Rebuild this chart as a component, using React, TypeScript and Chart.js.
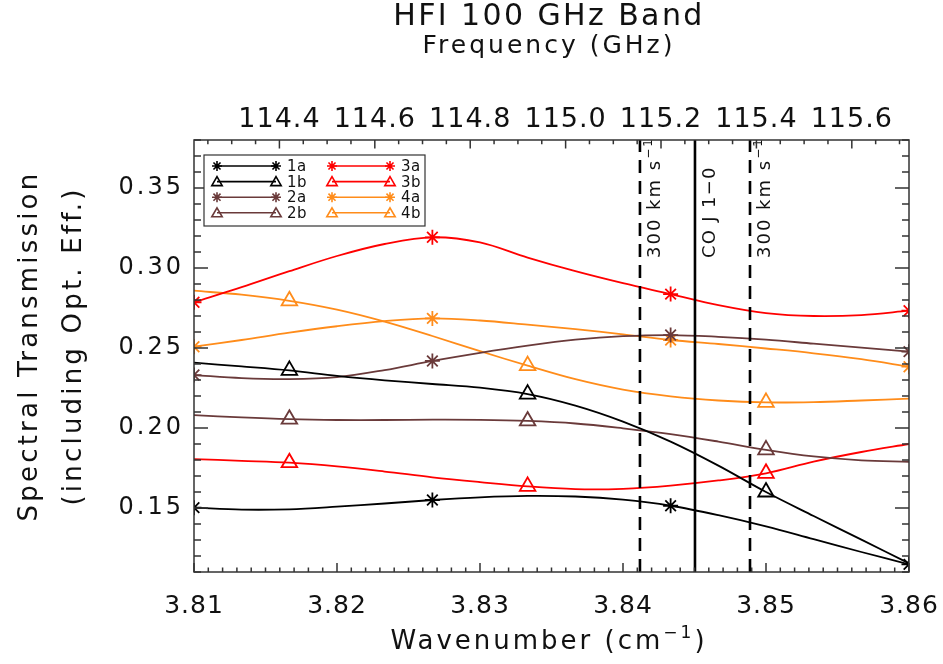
import React, { useEffect, useRef } from "react";
import { Chart, registerables } from "chart.js";

Chart.register(...registerables);

// ---------------- data ----------------
const C_GHZ = 29.9792458; // GHz per cm^-1
const wavenumber = [3.81, 3.81333, 3.81667, 3.82, 3.82333, 3.82667, 3.83, 3.83333, 3.83667, 3.84, 3.84333, 3.84667, 3.85, 3.85333, 3.85667, 3.86];

const s1a = [0.1502, 0.1490, 0.1492, 0.1508, 0.1528, 0.1550, 0.1567, 0.1576, 0.1572, 0.1552, 0.1514, 0.1455, 0.1385, 0.1305, 0.1225, 0.1148];
const s1b = [0.2408, 0.2385, 0.2360, 0.2326, 0.2298, 0.2275, 0.2252, 0.2212, 0.2140, 0.2040, 0.1915, 0.1765, 0.1600, 0.1450, 0.1302, 0.1154];
const s2a = [0.2331, 0.2312, 0.2306, 0.2318, 0.2362, 0.2419, 0.2470, 0.2515, 0.2552, 0.2574, 0.2581, 0.2570, 0.2552, 0.2527, 0.2502, 0.2477];
const s2b = [0.2081, 0.2066, 0.2055, 0.2050, 0.2050, 0.2052, 0.2051, 0.2044, 0.2028, 0.1998, 0.1962, 0.1915, 0.1863, 0.1822, 0.1798, 0.1789];
const s3a = [0.2786, 0.2880, 0.2980, 0.3075, 0.3150, 0.3192, 0.3160, 0.3065, 0.2980, 0.2905, 0.2837, 0.2768, 0.2718, 0.2700, 0.2706, 0.2733];
const s3b = [0.1806, 0.1795, 0.1783, 0.1760, 0.1728, 0.1692, 0.1662, 0.1635, 0.1618, 0.1620, 0.1640, 0.1672, 0.1717, 0.1790, 0.1850, 0.1900];
const s4a = [0.2508, 0.2550, 0.2596, 0.2636, 0.2668, 0.2685, 0.2672, 0.2646, 0.2618, 0.2585, 0.2550, 0.2525, 0.2497, 0.2467, 0.2430, 0.2383];
const s4b = [0.2858, 0.2833, 0.2795, 0.2740, 0.2665, 0.2575, 0.2480, 0.2390, 0.2305, 0.2240, 0.2198, 0.2172, 0.2160, 0.2162, 0.2172, 0.2183];

const markerIdxA = [0, 5, 10, 15];
const markerIdxB = [2, 7, 12];

const seriesNames = ["1a", "1b", "2a", "2b", "3a", "3b", "4a", "4b"];
const seriesValues = [s1a, s1b, s2a, s2b, s3a, s3b, s4a, s4b];

const bottomTicks = [3.81, 3.82, 3.83, 3.84, 3.85, 3.86];
const bottomTickLabels = ["3.81", "3.82", "3.83", "3.84", "3.85", "3.86"];
const topTicks = [114.4, 114.6, 114.8, 115.0, 115.2, 115.4, 115.6];
const topTickLabels = ["114.4", "114.6", "114.8", "115.0", "115.2", "115.4", "115.6"];
const yTicks = [0.15, 0.2, 0.25, 0.3, 0.35];
const yTickLabels = ["0.15", "0.20", "0.25", "0.30", "0.35"];

const coRestGHz = 115.2712;
const velocityKms = 300;
const lightKms = 299792.458;
const lineFreqs = [coRestGHz * (1 - velocityKms / lightKms), coRestGHz, coRestGHz * (1 + velocityKms / lightKms)];
const lineLabels = ["300 km s", "CO J 1\u22120", "300 km s"];
const lineDashed = [true, false, true];

// ---------------- styles ----------------
const BLACK = "#000000";
const RED = "#ff0000";
const BROWN = "#6a3a3a";
const ORANGE = "#ff8c1a";
const seriesColors = [BLACK, BLACK, BROWN, BROWN, RED, RED, ORANGE, ORANGE];
const FONT = '"DejaVu Sans", sans-serif';

type Part = { t: string; size: number; dy?: number };

function drawRich(ctx: CanvasRenderingContext2D, parts: Part[], x: number, y: number, align: "left" | "center", spacing: number) {
  ctx.save();
  ctx.textAlign = "left";
  ctx.textBaseline = "alphabetic";
  (ctx as any).letterSpacing = spacing + "px";
  let total = 0;
  const widths = parts.map((p) => {
    ctx.font = `${p.size}px ${FONT}`;
    const w = ctx.measureText(p.t).width;
    total += w;
    return w;
  });
  let cx = align === "center" ? x - total / 2 : x;
  parts.forEach((p, i) => {
    ctx.font = `${p.size}px ${FONT}`;
    ctx.fillText(p.t, cx, y - (p.dy || 0));
    cx += widths[i];
  });
  ctx.restore();
}

function drawMarker(ctx: CanvasRenderingContext2D, style: string, x: number, y: number, r: number) {
  ctx.beginPath();
  if (style === "star") {
    for (let k = 0; k < 4; k++) {
      const a = (k * Math.PI) / 4;
      ctx.moveTo(x - Math.cos(a) * r, y - Math.sin(a) * r);
      ctx.lineTo(x + Math.cos(a) * r, y + Math.sin(a) * r);
    }
  } else {
    for (let k = 0; k < 3; k++) {
      const a = (k * 2 * Math.PI) / 3;
      const px = x + Math.sin(a) * r;
      const py = y - Math.cos(a) * r;
      if (k === 0) ctx.moveTo(px, py);
      else ctx.lineTo(px, py);
    }
    ctx.closePath();
  }
  ctx.stroke();
}

const decorPlugin = {
  id: "decor",
  afterDatasetsDraw(chart: any) {
    const ctx: CanvasRenderingContext2D = chart.ctx;
    const area = chart.chartArea;
    const xTop = chart.scales.xTop;
    ctx.save();
    ctx.beginPath();
    ctx.rect(area.left, area.top, area.right - area.left, area.bottom - area.top);
    ctx.clip();
    ctx.strokeStyle = "#000";
    ctx.lineWidth = 2.6;
    lineFreqs.forEach((f, i) => {
      const x = xTop.getPixelForValue(f);
      ctx.setLineDash(lineDashed[i] ? [13, 8] : []);
      ctx.beginPath();
      ctx.moveTo(x, area.bottom);
      ctx.lineTo(x, area.top);
      ctx.stroke();
    });
    ctx.setLineDash([]);
    ctx.restore();

    // rotated labels for lines
    ctx.save();
    ctx.fillStyle = "#111";
    lineFreqs.forEach((f, i) => {
      const x = xTop.getPixelForValue(f);
      ctx.save();
      ctx.translate(x + 20, 258);
      ctx.rotate(-Math.PI / 2);
      const parts: Part[] = [{ t: lineLabels[i], size: 18 }];
      if (lineDashed[i]) parts.push({ t: "\u22121", size: 12, dy: 8 });
      drawRich(ctx, parts, 0, 0, "left", lineDashed[i] ? 2 : 1.3);
      ctx.restore();
    });
    ctx.restore();
  },
  afterDraw(chart: any) {
    const ctx: CanvasRenderingContext2D = chart.ctx;
    const area = chart.chartArea;
    const xs = chart.scales.x;
    const xTop = chart.scales.xTop;
    const ys = chart.scales.y;
    ctx.save();
    ctx.strokeStyle = "#333";
    ctx.lineWidth = 1.5;
    ctx.strokeRect(area.left, area.top, area.right - area.left, area.bottom - area.top);

    // bottom ticks
    ctx.beginPath();
    for (let i = 0; i <= 50; i++) {
      const x = xs.getPixelForValue(3.81 + i * 0.001);
      const len = i % 10 === 0 ? 9 : 4.5;
      ctx.moveTo(x, area.bottom);
      ctx.lineTo(x, area.bottom - len);
    }
    // top ticks (frequency)
    for (let i = 0; i <= 29; i++) {
      const f = 114.25 + i * 0.05;
      const major = Math.round(f * 100) % 20 === 0;
      const x = xTop.getPixelForValue(f);
      ctx.moveTo(x, area.top);
      ctx.lineTo(x, area.top + (major ? 8.6 : 4.3));
    }
    // left/right ticks
    for (let i = 0; i <= 27; i++) {
      const v = 0.11 + i * 0.01;
      const major = Math.round(v * 100) % 5 === 0;
      const y = ys.getPixelForValue(v);
      const len = major ? 14 : 7;
      ctx.moveTo(area.left, y);
      ctx.lineTo(area.left + len, y);
      ctx.moveTo(area.right, y);
      ctx.lineTo(area.right - len, y);
    }
    ctx.stroke();

    ctx.fillStyle = "#111";
    // bottom tick labels
    bottomTicks.forEach((v, i) => {
      drawRich(ctx, [{ t: bottomTickLabels[i], size: 25 }], xs.getPixelForValue(v), area.bottom + 41, "center", 1);
    });
    // top tick labels
    topTicks.forEach((f, i) => {
      drawRich(ctx, [{ t: topTickLabels[i], size: 27 }], xTop.getPixelForValue(f), area.top - 13, "center", 1);
    });
    // y tick labels
    yTicks.forEach((v, i) => {
      ctx.save();
      ctx.font = `24px ${FONT}`;
      (ctx as any).letterSpacing = "3px";
      ctx.textAlign = "right";
      ctx.textBaseline = "middle";
      ctx.fillText(yTickLabels[i], area.left - 10, ys.getPixelForValue(v));
      ctx.restore();
    });

    // titles
    const cx = 549;
    drawRich(ctx, [{ t: "HFI 100 GHz Band", size: 30 }], cx, 25, "center", 2.4);
    drawRich(ctx, [{ t: "Frequency (GHz)", size: 25 }], cx, 53, "center", 3);
    drawRich(ctx, [{ t: "Wavenumber (cm", size: 26 }, { t: "\u22121", size: 17, dy: 11 }, { t: ")", size: 26 }], cx, 649, "center", 3);

    // y title
    ctx.save();
    ctx.translate(37, 346);
    ctx.rotate(-Math.PI / 2);
    drawRich(ctx, [{ t: "Spectral Transmission", size: 26 }], 0, 0, "center", 3.2);
    ctx.restore();
    ctx.save();
    ctx.translate(81, 346);
    ctx.rotate(-Math.PI / 2);
    drawRich(ctx, [{ t: "(including Opt. Eff.)", size: 26 }], 0, 0, "center", 3.2);
    ctx.restore();

    // legend
    const lx = 204, ly = 155, lw = 221, lh = 71;
    ctx.fillStyle = "#fff";
    ctx.fillRect(lx, ly, lw, lh);
    ctx.strokeStyle = "#333";
    ctx.lineWidth = 1.2;
    ctx.strokeRect(lx, ly, lw, lh);
    const cols = [{ x0: 217, x1: 276, tx: 287 }, { x0: 332, x1: 390, tx: 401 }];
    seriesNames.forEach((name, i) => {
      const col = cols[Math.floor(i / 4)];
      const y = 166 + (i % 4) * 15.6;
      const color = seriesColors[i];
      const style = i % 2 === 0 ? "star" : "triangle";
      ctx.strokeStyle = color;
      ctx.lineWidth = 1.6;
      ctx.beginPath();
      ctx.moveTo(col.x0, y);
      ctx.lineTo(col.x1, y);
      ctx.stroke();
      const r = style === "star" ? 5 : 6;
      const my = style === "star" ? y : y + 1;
      drawMarker(ctx, style, col.x0, my, r);
      drawMarker(ctx, style, col.x1, my, r);
      ctx.fillStyle = "#111";
      drawRich(ctx, [{ t: name, size: 15 }], col.tx, y + 5, "left", 0.5);
    });
    ctx.restore();
  },
};

export default function App() {
  const ref = useRef<HTMLCanvasElement | null>(null);
  useEffect(() => {
    if (!ref.current) return;
    const datasets = seriesValues.map((vals, si) => {
      const isA = si % 2 === 0;
      const idx = isA ? markerIdxA : markerIdxB;
      return {
        label: seriesNames[si],
        data: wavenumber.map((w, i) => ({ x: w, y: vals[i] })),
        borderColor: seriesColors[si],
        backgroundColor: "rgba(0,0,0,0)",
        borderWidth: 1.8,
        pointStyle: isA ? "star" : "triangle",
        pointRadius: wavenumber.map((_, i) => (idx.includes(i) ? (isA ? 7.5 : 9) : 0)),
        pointHoverRadius: 0,
        pointBorderColor: seriesColors[si],
        pointBackgroundColor: "rgba(0,0,0,0)",
        pointBorderWidth: 1.8,
        tension: 0.35,
        fill: false,
        clip: 0,
      };
    });
    const chart = new Chart(ref.current, {
      type: "line",
      data: { datasets },
      options: {
        responsive: false,
        animation: false,
        maintainAspectRatio: false,
        events: [],
        layout: { padding: { left: 194, right: 34, top: 140, bottom: 92 } },
        plugins: { legend: { display: false }, tooltip: { enabled: false }, title: { display: false } },
        scales: {
          x: { type: "linear", min: 3.81, max: 3.86, display: false },
          xTop: { type: "linear", position: "top", min: 3.81 * C_GHZ, max: 3.86 * C_GHZ, display: false },
          y: { type: "linear", min: 0.11, max: 0.38, display: false },
        },
      },
      plugins: [decorPlugin],
    } as any);
    return () => chart.destroy();
  }, []);
  return (
    <div style={{ position: "fixed", left: 0, top: 0, width: 943, height: 664, background: "#fff" }}>
      <canvas ref={ref} width={943} height={664} style={{ display: "block", width: 943, height: 664 }} />
    </div>
  );
}
